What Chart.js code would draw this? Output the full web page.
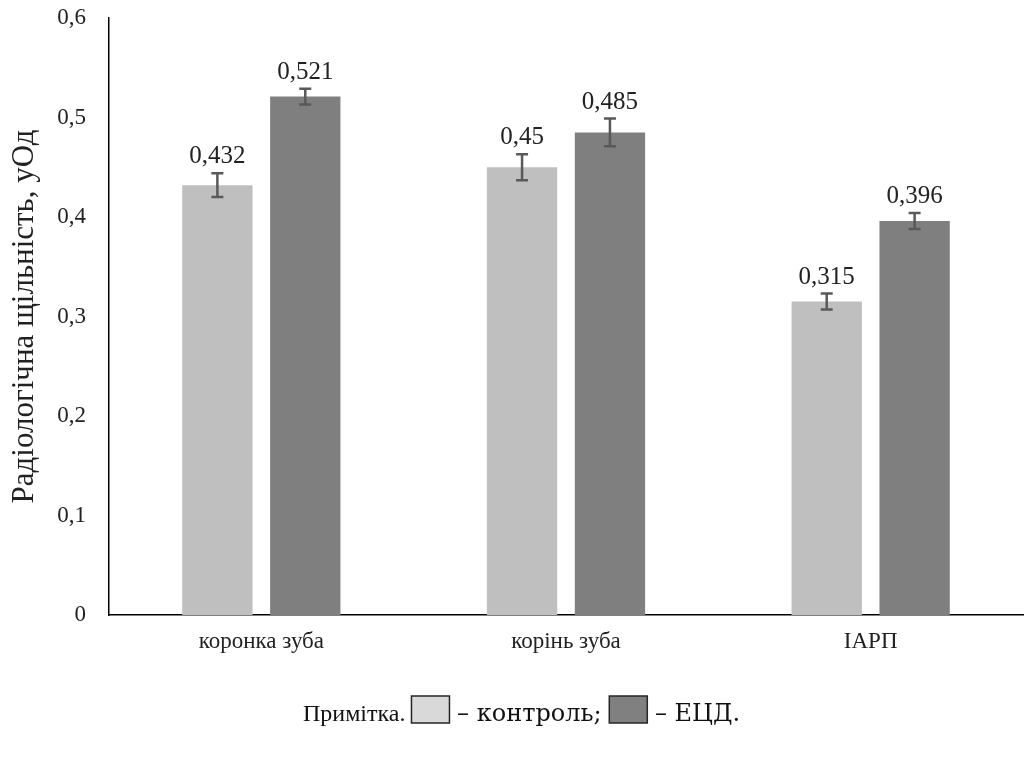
<!DOCTYPE html>
<html>
<head>
<meta charset="utf-8">
<script src="https://cdn.jsdelivr.net/npm/chart.js@4/dist/chart.umd.min.js"></script>
<style>
  body { margin: 0; background: #fff; }
  #wrap { width: 1025px; height: 758px; }
</style>
</head>
<body>
<div id="wrap"><canvas id="myChart" width="1025" height="758"></canvas></div>
<script>
// data
var categories = ['коронка зуба', 'корінь зуба', 'ІАРП'];
var controlValues = [0.432, 0.45, 0.315];
var ecdValues = [0.521, 0.485, 0.396];
var controlErrors = [0.012, 0.013, 0.008];
var ecdErrors = [0.008, 0.014, 0.008];
var yTicks = [0, 0.1, 0.2, 0.3, 0.4, 0.5, 0.6];

var serif = "'Liberation Serif', 'Times New Roman', serif";
var wideSerif = "'DejaVu Serif', serif";

function comma(v) {
    return String(v).replace('.', ',');
}

// error bars + value labels
var errorBarPlugin = {
    id: 'errorBars',
    afterDatasetsDraw: function (chart) {
        var ctx = chart.ctx;
        var yScale = chart.scales.y;
        chart.data.datasets.forEach(function (ds, i) {
            var meta = chart.getDatasetMeta(i);
            meta.data.forEach(function (bar, j) {
                var v = ds.data[j];
                var e = ds.errors[j];
                var yTop = yScale.getPixelForValue(v + e);
                var yBot = yScale.getPixelForValue(v - e);
                ctx.save();
                ctx.strokeStyle = '#595959';
                ctx.lineWidth = 2.5;
                ctx.beginPath();
                ctx.moveTo(bar.x, yTop);
                ctx.lineTo(bar.x, yBot);
                ctx.moveTo(bar.x - 6, yTop);
                ctx.lineTo(bar.x + 6, yTop);
                ctx.moveTo(bar.x - 6, yBot);
                ctx.lineTo(bar.x + 6, yBot);
                ctx.stroke();
                ctx.fillStyle = '#222';
                ctx.font = '25px ' + serif;
                ctx.textAlign = 'center';
                ctx.textBaseline = 'bottom';
                ctx.fillText(comma(v), bar.x, yTop - 4);
                ctx.restore();
            });
        });
    }
};

// note under the chart
var notePlugin = {
    id: 'note',
    afterDraw: function (chart) {
        var ctx = chart.ctx;
        ctx.save();
        ctx.textBaseline = 'alphabetic';
        ctx.textAlign = 'left';
        var parts = [
            { text: 'Примітка. ', font: '24px ' + serif },
            { box: '#d9d9d9' },
            { text: ' – контроль; ', font: '24px ' + wideSerif },
            { box: '#808080' },
            { text: ' – ЕЦД.', font: '24px ' + wideSerif }
        ];
        var boxW = 38;
        var x = 303;
        var base = 721;
        parts.forEach(function (p) {
            if (p.box) {
                ctx.fillStyle = p.box;
                ctx.fillRect(x, base - 25, boxW, 27);
                ctx.strokeStyle = '#262626';
                ctx.lineWidth = 1.5;
                ctx.strokeRect(x, base - 25, boxW, 27);
                x += boxW;
            } else {
                ctx.font = p.font;
                ctx.fillStyle = '#111';
                ctx.fillText(p.text, x, base);
                x += ctx.measureText(p.text).width;
            }
        });
        ctx.restore();
    }
};

var ctx = document.getElementById('myChart').getContext('2d');
var myChart = new Chart(ctx, {
    type: 'bar',
    data: {
        labels: categories,
        datasets: [{
            label: 'контроль',
            data: controlValues,
            errors: controlErrors,
            backgroundColor: '#bfbfbf',
            categoryPercentage: 0.577,
            barPercentage: 0.8
        }, {
            label: 'ЕЦД',
            data: ecdValues,
            errors: ecdErrors,
            backgroundColor: '#7f7f7f',
            categoryPercentage: 0.577,
            barPercentage: 0.8
        }]
    },
    options: {
        responsive: false,
        animation: false,
        layout: { padding: { top: 18, right: 2, left: 0, bottom: 0 } },
        plugins: {
            legend: { display: false },
            tooltip: { enabled: false }
        },
        scales: {
            x: {
                grid: { display: false, drawTicks: false },
                border: { color: '#000', width: 1.5 },
                ticks: { color: '#222', font: { family: serif, size: 23 }, padding: 13 },
                afterFit: function (scale) { scale.height = 143; }
            },
            y: {
                min: 0,
                max: 0.6,
                afterBuildTicks: function (scale) {
                    scale.ticks = yTicks.map(function (v) { return { value: v }; });
                },
                grid: { display: false, drawTicks: false },
                border: { color: '#000', width: 1.5 },
                ticks: {
                    color: '#222',
                    font: { family: serif, size: 23 },
                    padding: 23,
                    callback: function (v) { return comma(Math.round(v * 10) / 10); }
                },
                title: {
                    display: true,
                    text: 'Радіологічна щільність, уОд',
                    color: '#222',
                    font: { family: serif, size: 31 },
                    padding: { top: 6, bottom: 0 }
                },
                afterFit: function (scale) {
                    scale.width = 109;
                    scale.paddingTop = 0;
                    scale.paddingBottom = 0;
                }
            }
        }
    },
    plugins: [errorBarPlugin, notePlugin]
});
</script>
</body>
</html>
